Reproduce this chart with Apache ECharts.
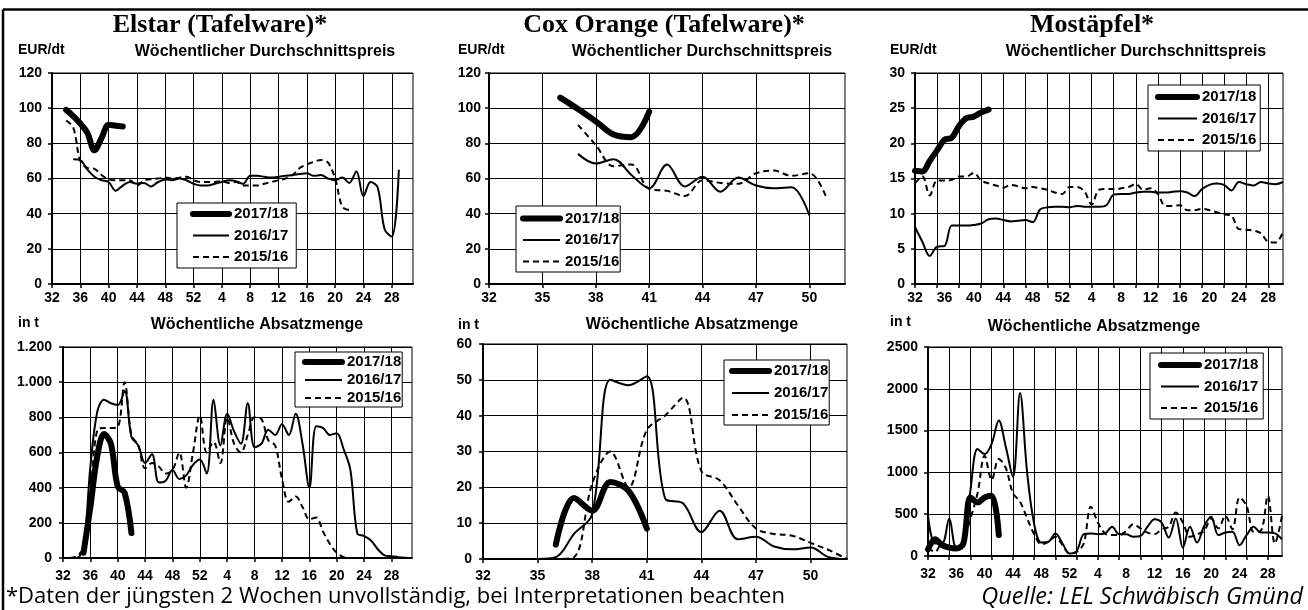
<!DOCTYPE html>
<html><head><meta charset="utf-8">
<script src="https://cdn.jsdelivr.net/npm/echarts@6/dist/echarts.min.js"></script>
<style>html,body{margin:0;padding:0;background:#fff}#c{width:1308px;height:610px}</style>
</head><body><div id="c"></div><script>
// ---- categories (calendar weeks) ----
const weeksElstar = ["32","33","34","35","36","37","38","39","40","41","42","43","44","45","46","47","48","49","50","51","52","1","2","3","4","5","6","7","8","9","10","11","12","13","14","15","16","17","18","19","20","21","22","23","24","25","26","27","28","29","30","31"];
const weeksCox = ["32","33","34","35","36","37","38","39","40","41","42","43","44","45","46","47","48","49","50","51","52"];
const weeksMost = ["32","33","34","35","36","37","38","39","40","41","42","43","44","45","46","47","48","49","50","51","52","1","2","3","4","5","6","7","8","9","10","11","12","13","14","15","16","17","18","19","20","21","22","23","24","25","26","27","28","29","30"];

const seasons = ["2017/18","2016/17","2015/16"];

// ---- Elstar price EUR/dt ----
const elstarPrice1718 = [null,null,99,95.5,91.3,86,76,83,90.5,90,89.6];
const elstarPrice1617 = [null,null,null,71,70.5,65,61,59,58,53,56,58,57,57.5,55.5,58,59.5,59,60,59,57,
  56,56,57,58,59,58.5,57,61.5,61.5,61,60.5,61,61.5,62,62.5,63,61.5,62,60,59,60.5,57.5,64,50,58,55,31,27,65];
const elstarPrice1516 = [null,null,93,89,70,66,65.5,62,59.5,59,59,59,56,59,59.5,60,60.5,60,60.5,61,59,
  58,58,58,58.5,57.5,58,56,56,56,57,58,59,60,62,66,68,69.5,70.5,69,60,44,42];

// ---- Cox Orange price EUR/dt ----
const coxPrice1718 = [null,null,null,null,106,99.5,92.5,85,83.5,98];
const coxPrice1617 = [null,null,null,null,null,74,68.5,71,62,54.5,68,55.5,61,52.5,60.5,56,54.5,55,39];
const coxPrice1516 = [null,null,null,null,null,90.5,79,67,68,54,53,50,59,57.5,57,63,64.5,61.5,63,48];

// ---- Mostaepfel price EUR/dt ----
const mostPrice1718 = [16.1,16,17.5,19,20.5,20.8,22.5,23.6,23.8,24.4,24.8];
const mostPrice1617 = [8.1,6,4,5.3,5.4,8.3,8.3,8.3,8.4,8.6,9.2,9.3,9.1,8.9,9.0,9.1,8.8,10.6,10.9,11,11,
  10.9,11.1,11,11,11,11.2,12.7,12.8,12.8,13,13.1,13.1,13,13,13.1,13.2,13,12.5,13.5,14.1,14.3,14.1,13.3,14.5,14.2,14,14.5,14.3,14.2,14.5];
const mostPrice1516 = [14.3,15.3,12.6,14.7,14.7,14.8,15.3,15.3,15.8,14.7,14.3,14,13.7,14.1,13.9,13.6,13.8,13.6,13.4,13,12.8,
  13.8,13.8,13.2,11.3,13.4,13.5,13.5,13.6,13.8,14.2,13.4,13.6,12.8,11.1,11.1,11.2,10.5,10.5,10.7,10.5,10.2,9.9,9.7,7.8,7.7,7.6,7.2,6.0,5.9,7.4];

// ---- Elstar quantity t ----
const elstarQty1718 = [null,null,null,30,290,577,705,650,406,372,142];
const elstarQty1617 = [0,0,0,60,520,830,900,880,870,950,690,640,540,590,430,440,500,450,470,530,560,
  480,900,640,820,720,650,880,630,650,730,700,760,700,820,650,400,750,740,700,710,620,500,140,125,100,50,15,10,5,2,0];
const elstarQty1516 = [null,0,10,60,370,728,740,740,745,1000,700,640,510,540,520,480,500,600,400,600,810,
  600,660,540,800,650,600,700,800,790,670,640,450,320,350,290,220,230,150,80,30,5,0];

// ---- Cox Orange quantity t ----
const coxQty1718 = [null,null,null,null,4,17,13.5,21.5,19,8.5];
const coxQty1617 = [0,0,0,0,0.5,7,12.5,50,48.5,51,17,15.5,7.5,13.5,5.5,6.2,3.5,2.7,3.2,0.5,0];
const coxQty1516 = [0,0,0,0,0,0.5,21,30,20,36,40,45,24.5,22,15,8.5,7,6.5,4.5,2.5,0];

// ---- Mostaepfel quantity t ----
const mostQty1718 = [80,200,130,100,90,150,700,640,700,720,250];
const mostQty1617 = [480,150,150,450,100,150,790,1280,1220,1345,1620,1300,950,1950,1000,380,160,170,270,150,30,
  60,260,270,260,270,350,260,260,230,240,350,440,400,220,450,100,350,160,360,470,250,280,290,130,250,350,280,280,270,200];
const mostQty1516 = [100,50,150,100,100,200,450,750,1200,910,1160,1050,750,650,450,260,140,170,230,130,30,
  50,150,590,400,270,250,250,300,380,330,280,260,320,350,520,400,230,260,300,450,330,480,320,700,600,290,300,720,150,480];

// ---- texts ----
const panelTitles = ["Elstar (Tafelware)*","Cox Orange (Tafelware)*","Mostäpfel*"];
const priceSubtitle = "Wöchentlicher Durchschnittspreis";
const qtySubtitle = "Wöchentliche Absatzmenge";
const priceUnit = "EUR/dt";
const qtyUnit = "in t";
const footLeft = "*Daten der jüngsten 2 Wochen unvollständig, bei Interpretationen beachten";
const footRight = "Quelle: LEL Schwäbisch Gmünd";

// ---------------------------------------------------------------
const SANS = '"Liberation Sans", Arial, sans-serif';
function padTo(arr, n){ const a = arr.slice(); while(a.length < n) a.push(null); return a; }

const grids = [
  {left:52, top:73, width:361, height:211},
  {left:489, top:73, width:356, height:211},
  {left:915, top:73, width:368, height:211},
  {left:63, top:347, width:349, height:211},
  {left:483, top:344, width:364, height:215},
  {left:928, top:347, width:354, height:209}
].map(g => Object.assign({show:true, borderColor:'#000', borderWidth:1, backgroundColor:'transparent'}, g));

const catsFor = [weeksElstar, weeksCox, weeksMost, weeksElstar, weeksCox, weeksMost];
const labelInt = [3,2,3,3,2,3];
const splitInt = [3,2,2,3,2,2];
const xMargin = [7,7,7,11,10,11];

const xAxes = catsFor.map((cats,i) => ({
  type:'category', gridIndex:i, data:cats, boundaryGap:false,
  axisLine:{show:true, lineStyle:{color:'#000', width:2}},
  axisTick:{show:true, interval:splitInt[i], length:4, lineStyle:{color:'#000', width:1.5}},
  axisLabel:{interval:labelInt[i], color:'#000', fontWeight:'bold', fontSize:14, fontFamily:SANS, margin:xMargin[i]},
  splitLine:{show:true, interval:splitInt[i], lineStyle:{color:'#000', width:1}}
}));

const yCfg = [
  {max:120, interval:20, m:10},
  {max:120, interval:20, m:8},
  {max:30, interval:5, m:10},
  {max:1200, interval:200, m:11, de:true},
  {max:60, interval:10, m:11},
  {max:2500, interval:500, m:10}
];
const yAxes = yCfg.map((c,i) => ({
  type:'value', gridIndex:i, min:0, max:c.max, interval:c.interval,
  axisLine:{show:true, lineStyle:{color:'#000', width:2}},
  axisTick:{show:true, length:4, lineStyle:{color:'#000', width:1.5}},
  axisLabel:{color:'#000', fontWeight:'bold', fontSize:14, fontFamily:SANS, margin:c.m,
    formatter: c.de ? (v => v >= 1000 ? Math.floor(v/1000) + '.' + String(v%1000).padStart(3,'0') : String(v)) : (v => String(v))},
  splitLine:{show:true, lineStyle:{color:'#000', width:1}}
}));

const panelData = [
  [elstarPrice1718, elstarPrice1617, elstarPrice1516],
  [coxPrice1718, coxPrice1617, coxPrice1516],
  [mostPrice1718, mostPrice1617, mostPrice1516],
  [elstarQty1718, elstarQty1617, elstarQty1516],
  [coxQty1718, coxQty1617, coxQty1516],
  [mostQty1718, mostQty1617, mostQty1516]
];

const series = [];
panelData.forEach((sets, i) => {
  const n = catsFor[i].length;
  // draw older seasons first so the thick current season is on top
  [2,1,0].forEach(k => {
    const thick = k === 0;
    series.push({
      type:'line', name:seasons[k], xAxisIndex:i, yAxisIndex:i,
      data: padTo(sets[k], n), smooth:0.35, symbol:'none', connectNulls:false,
      color:'#000', itemStyle:{color:'#000'},
      lineStyle:{color:'#000', width: thick ? 6 : 2, type: k === 2 ? [6,4] : 'solid', cap: thick ? 'round' : 'butt', join:'round'},
      z: thick ? 5 : 3, animation:false
    });
  });
});

const legendData = [
  {name:'2017/18', lineStyle:{width:6}},
  {name:'2016/17', lineStyle:{width:2}},
  {name:'2015/16', lineStyle:{width:2}}
];
const legPos = [
  {left:177, top:203, itemWidth:36, itemGap:6.5, padding:[3.5,8,3.5,13]},
  {left:516, top:206, itemWidth:37, itemGap:6.5, padding:[5,1,3,4]},
  {left:1148, top:85, itemWidth:39, itemGap:6.5, padding:[4.5,4,3.5,7]},
  {left:295, top:352, itemWidth:37, itemGap:3, padding:[2.5,1,1.5,7]},
  {left:724, top:360, itemWidth:37, itemGap:7, padding:[3.5,1,2.5,5]},
  {left:1150, top:353, itemWidth:38, itemGap:6.5, padding:[4.5,5,3.5,8]}
];
const legends = legPos.map(p => Object.assign({
  orient:'vertical', itemHeight:14, borderColor:'#000', borderWidth:1, backgroundColor:'#fff',
  selectedMode:false, itemStyle:{opacity:0},
  textStyle:{color:'#000', fontWeight:'bold', fontSize:15, fontFamily:SANS},
  data: legendData
}, p));

function txt(x, y, text, font, align){
  return {type:'text', x:x, y:y, z:100, silent:true,
    style:{text:text, font:font, fill:'#000', align:align||'center', textAlign:align||'center', verticalAlign:'middle', textVerticalAlign:'middle'}};
}
const TITLE_FONT = 'bold 26px "Liberation Serif", "Times New Roman", serif';
const SUB_FONT = 'bold 16px ' + SANS;
const UNIT_FONT = 'bold 14px ' + SANS;
const FOOT_FONT = '22px "Open Sans", sans-serif';
const FOOT_FONT_I = 'italic 23.5px "Open Sans", sans-serif';

const graphic = [
  {type:'line', shape:{x1:3, y1:9.5, x2:1308, y2:9.5}, style:{stroke:'#000', lineWidth:2.5}, silent:true},
  {type:'line', shape:{x1:3, y1:9.5, x2:3, y2:610}, style:{stroke:'#000', lineWidth:2.5}, silent:true},
  txt(220, 25, panelTitles[0], TITLE_FONT),
  txt(664, 25, panelTitles[1], TITLE_FONT),
  txt(1092, 25, panelTitles[2], TITLE_FONT),
  txt(18, 50, priceUnit, UNIT_FONT, 'left'),
  txt(458, 50, priceUnit, UNIT_FONT, 'left'),
  txt(890, 50, priceUnit, UNIT_FONT, 'left'),
  txt(265, 52, priceSubtitle, SUB_FONT),
  txt(702, 52, priceSubtitle, SUB_FONT),
  txt(1136, 52, priceSubtitle, SUB_FONT),
  txt(18, 323, qtyUnit, UNIT_FONT, 'left'),
  txt(458, 325, qtyUnit, UNIT_FONT, 'left'),
  txt(890, 322, qtyUnit, UNIT_FONT, 'left'),
  txt(257, 325, qtySubtitle, SUB_FONT),
  txt(692, 325, qtySubtitle, SUB_FONT),
  txt(1094, 327, qtySubtitle, SUB_FONT),
  txt(6, 597, footLeft, FOOT_FONT, 'left'),
  txt(1303, 597, footRight, FOOT_FONT_I, 'right')
];

const chart = echarts.init(document.getElementById('c'), null, {renderer:'canvas'});
chart.setOption({
  backgroundColor:'#fff',
  animation:false,
  grid: grids,
  xAxis: xAxes,
  yAxis: yAxes,
  legend: legends,
  series: series,
  graphic: graphic
});
</script></body></html>
